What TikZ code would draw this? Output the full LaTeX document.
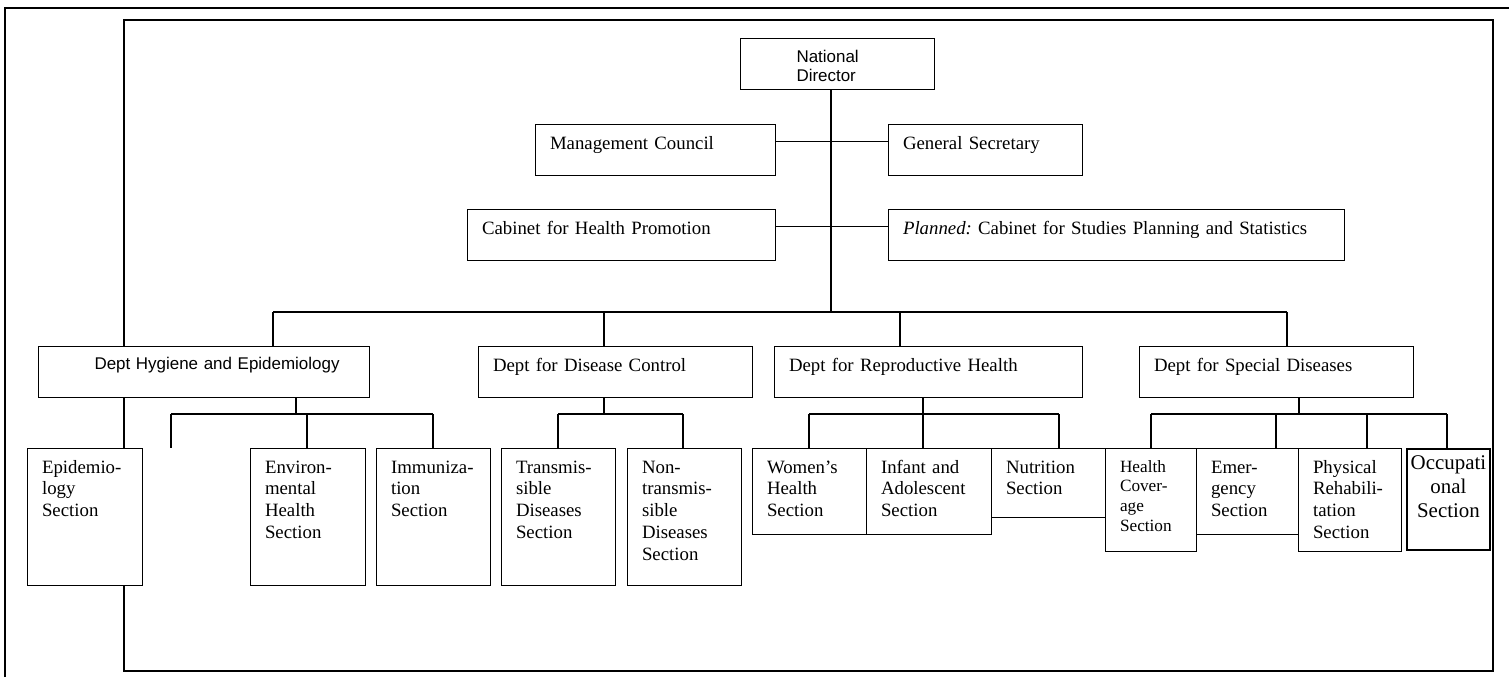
\documentclass[tikz,border=0pt]{standalone}
\usepackage{fontspec}
\setmainfont{Liberation Serif}
\setsansfont{Liberation Sans}
\usepackage{tikz}

\newcommand{\boxfont}{\fontsize{10.7}{12.4}\selectfont}
\newcommand{\sansbox}{\sffamily\fontsize{9.65}{10.8}\selectfont}
\newcommand{\smallbox}{\fontsize{9.8}{11.2}\selectfont}
\newcommand{\occfont}{\fontsize{11.9}{13.6}\selectfont}
\newcommand{\indentsans}{\hspace*{0.83cm}}
\hyphenpenalty=10000
\frenchspacing

\tikzset{
  unit/.style={shape=rectangle,draw=black,fill=white,line width=0.6pt,anchor=north west,
    inner xsep=0.29cm,inner ysep=0.1cm,text height=0.39cm,align=left,font=\boxfont},
  sunit/.style={unit,font=\sansbox},
  frame/.style={draw=black,line width=0.9pt},
  link/.style={draw=black,line width=0.6pt},
}

\begin{document}
\begin{tikzpicture}[x=0.02cm,y=-0.02cm]
    \useasboundingbox (0,0) rectangle (1509,677);
    \draw[frame] (5,677) -- (5,8) -- (1509,8);
    \draw[frame] (124,20) rectangle (1493,671);

    \node[sunit,text width=3.30cm,text height=0.38cm,text depth=0.44cm] (dir) at (740,38) {\indentsans National\\\indentsans Director};
    \node[unit,text width=4.22cm,text depth=0.43cm] (mc) at (535,124) {Management Council};
    \node[unit,text width=3.30cm,text depth=0.43cm] (gs) at (888,124) {General Secretary};
    \node[unit,text width=5.58cm,text depth=0.43cm] (chp) at (467,209) {Cabinet for Health Promotion};
    \node[unit,text width=8.54cm,text depth=0.43cm] (plan) at (888,209) {\textit{Planned:} Cabinet for Studies Planning and Statistics};

    \node[sunit,text width=6.04cm,text height=0.36cm,text depth=0.46cm] (hyg) at (38,346) {\indentsans Dept Hygiene and Epidemiology};
    \node[unit,text width=4.90cm,text depth=0.43cm] (ddc) at (478,346) {Dept for Disease Control};
    \node[unit,text width=5.58cm,text depth=0.43cm] (drh) at (774,346) {Dept for Reproductive Health};
    \node[unit,text width=4.90cm,text depth=0.43cm] (dsd) at (1139,346) {Dept for Special Diseases};

    \node[unit,text width=1.72cm,text depth=2.15cm] (epi) at (27,448) {Epidemio-\\logy\\Section};
    \node[unit,text width=1.72cm,text depth=2.15cm] (env) at (250,448) {Environ-\\mental\\Health\\Section};
    \node[unit,text width=1.70cm,text depth=2.15cm] (imm) at (376,448) {Immuniza-\\tion\\Section};
    \node[unit,text width=1.70cm,text depth=2.15cm] (trans) at (501,448) {Transmis-\\sible\\Diseases\\Section};
    \node[unit,text width=1.70cm,text depth=2.15cm] (ntrans) at (627,448) {Non-\\transmis-\\sible\\Diseases\\Section};
    \node[unit,text width=1.70cm,text depth=1.13cm] (women) at (752,448) {Women’s\\Health\\Section};
    \node[unit,text width=1.92cm,text depth=1.13cm] (infant) at (866,448) {Infant and\\Adolescent\\Section};
    \node[unit,text width=1.70cm,text depth=0.79cm] (nutr) at (991,448) {Nutrition\\Section};
    \node[unit,text width=1.24cm,text height=0.37cm,text depth=1.49cm,font=\smallbox] (cover) at (1105,448) {Health\\Cover-\\age\\Section};
    \node[unit,text width=1.46cm,text depth=1.13cm] (emerg) at (1196,448) {Emer-\\gency\\Section};
    \node[unit,text width=1.48cm,text depth=1.47cm] (rehab) at (1298,448) {Physical\\Rehabili-\\tation\\Section};
    \node[unit,inner xsep=0.04cm,text width=1.58cm,text height=0.32cm,text depth=1.50cm,align=center,font=\occfont,line width=1.1pt] (occup) at (1406,448) {Occupati\\onal\\Section};

    % bus lines
    \coordinate (spine) at (831,312);
    \coordinate (b1) at (273,312);
    \coordinate (b2) at (604,312);
    \coordinate (b3) at (900,312);
    \coordinate (b4) at (1287,312);
    \coordinate (h0) at (296,414);
    \coordinate (h1) at (171,414);
    \coordinate (h2) at (307,414);
    \coordinate (h3) at (433,414);
    \coordinate (hx) at (171,448);
    \coordinate (d0) at (604,414);
    \coordinate (d1) at (558,414);
    \coordinate (d2) at (683,414);
    \coordinate (r0) at (923,414);
    \coordinate (r1) at (809,414);
    \coordinate (r2) at (1059,414);
    \coordinate (s0) at (1299,414);
    \coordinate (s1) at (1151,414);
    \coordinate (s2) at (1276,414);
    \coordinate (s3) at (1367,414);
    \coordinate (s4) at (1447,414);

    \path [link](spine |- dir.south) edge node {} (spine);
    \path [link]([yshift=0.17cm]mc.east) edge node {} ([yshift=0.17cm]gs.west);
    \path [link]([yshift=0.17cm]chp.east) edge node {} ([yshift=0.17cm]plan.west);
    \path [link](b1) edge node {} (b4);
    \path [link](b1) edge node {} (b1 |- hyg.north);
    \path [link](b2) edge node {} (b2 |- ddc.north);
    \path [link](b3) edge node {} (b3 |- drh.north);
    \path [link](b4) edge node {} (b4 |- dsd.north);

    \path [link](h0 |- hyg.south) edge node {} (h0);
    \path [link](h1) edge node {} (h3);
    \path [link](h1) edge node {} (hx);
    \path [link](h2) edge node {} (h2 |- env.north);
    \path [link](h3) edge node {} (h3 |- imm.north);

    \path [link](d0 |- ddc.south) edge node {} (d0);
    \path [link](d1) edge node {} (d2);
    \path [link](d1) edge node {} (d1 |- trans.north);
    \path [link](d2) edge node {} (d2 |- ntrans.north);

    \path [link](r0 |- drh.south) edge node {} (r0);
    \path [link](r1) edge node {} (r2);
    \path [link](r1) edge node {} (r1 |- women.north);
    \path [link](r0) edge node {} (r0 |- infant.north);
    \path [link](r2) edge node {} (r2 |- nutr.north);

    \path [link](s0 |- dsd.south) edge node {} (s0);
    \path [link](s1) edge node {} (s4);
    \path [link](s1) edge node {} (s1 |- cover.north);
    \path [link](s2) edge node {} (s2 |- emerg.north);
    \path [link](s3) edge node {} (s3 |- rehab.north);
    \path [link](s4) edge node {} (s4 |- occup.north);
\end{tikzpicture}
\end{document}
